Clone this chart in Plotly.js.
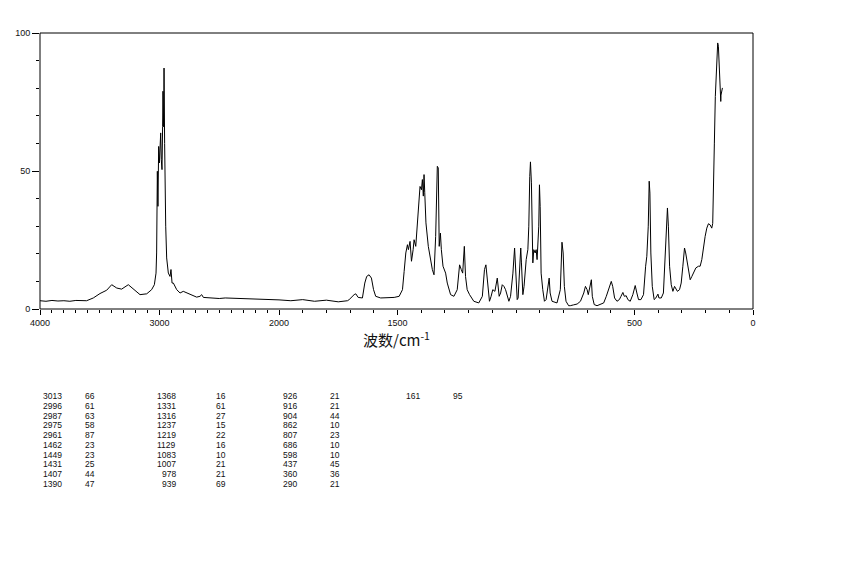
<!DOCTYPE html>
<html>
<head>
<meta charset="utf-8">
<script src="https://cdn.plot.ly/plotly-3.0.1.min.js"></script>
<style>html,body{margin:0;padding:0;background:#fff;}#chart{width:850px;height:567px;}</style>
</head>
<body>
<div id="chart"></div>
<script>
// Spectrum (wavenumber in cm-1, intensity 0-100)
const wavenumber = [
4000,3950,3900,3850,3800,3750,3700,3650,3610,3554,3498,3442,3400,3358,3317,3261,3219,3163,3107,3066,
3043,3029,3024,3018,3013,3007,3001,2996,2990,2985,2979,2974,2971,2965,2962,2957,2954,2948,2940,2926,
2912,2904,2895,2884,2856,2828,2801,2773,2731,2689,2661,2647,2633,2577,2500,2450,2382,2300,2200,2103,
2050,2000,
1950,1900,1850,1800,1750,1711,1704,1683,1676,1666,1648,1638,1630,1620,1610,1601,1592,1571,1514,1493,
1479,1472,1465,1458,1454,1447,1441,1434,1430,1423,1419,1412,1405,1399,1395,1391,1388,1385,1380,1370,
1360,1353,1346,1339,1332,1328,1324,1319,1315,1308,1297,1290,1276,1262,1248,1238,1231,1225,1218,1213,
1206,1196,1178,1157,1142,1133,1127,1121,1112,1105,1098,1089,1082,1079,1071,1065,1058,1051,1044,1037,
1030,1023,1013,1006,1002,995,991,984,980,977,971,966,957,950,946,942,939,935,929,925,
919,915,911,904,901,898,894,887,880,873,865,860,856,848,827,813,806,801,796,789,
778,771,757,742,728,714,707,700,695,686,682,678,670,658,644,630,619,609,598,592,
584,574,564,557,549,543,535,528,518,507,497,490,483,473,462,453,448,442,438,435,
431,425,417,410,401,397,387,378,371,366,361,357,352,345,338,331,326,319,310,303,
296,289,284,277,270,265,258,251,241,230,223,216,209,202,195,188,181,174,170,167,
163,159,153,149,146,143,139,136,135,132,129
];
const intensity = [
3.0,2.8,3.1,2.9,3.0,2.8,3.1,2.9,3.0,4.0,5.6,6.8,8.8,7.6,7.2,8.8,7.2,5.2,5.5,7.0,
8.8,13.0,20.3,49.9,37.2,58.9,52.9,60.1,63.8,54.1,50.5,66.2,78.9,66.0,87.3,60.0,48.0,30.0,18.5,13.0,
11.8,14.3,9.4,9.4,7.0,5.8,6.4,5.8,5.2,4.3,4.6,5.2,4.2,4.0,3.8,4.0,3.9,3.7,3.6,3.6,
3.4,3.3,
3.0,3.4,2.8,3.2,2.6,3.0,3.4,5.2,5.5,4.2,4.0,9.4,11.8,12.4,11.2,7.0,4.6,4.0,4.2,4.6,
7.0,13.6,20.3,23.3,21.5,24.5,17.3,21.5,25.1,22.7,27.5,36.0,44.4,43.2,46.9,40.9,48.7,42.1,31.2,22.7,
16.7,14.3,12.4,26.3,51.7,51.1,22.7,27.5,21.5,15.5,13.0,9.4,5.2,4.6,7.0,16.0,14.3,13.0,22.7,11.8,
7.0,5.2,2.8,2.2,4.6,14.3,16.0,9.4,2.8,4.6,7.0,6.4,10.6,11.2,4.6,5.8,8.8,8.2,7.0,5.2,
2.8,4.6,13.0,22.1,15.5,3.4,4.0,13.0,22.1,16.7,5.2,8.2,17.9,21.5,30.0,48.0,53.3,45.7,16.7,21.5,
20.3,21.5,17.9,30.0,45.0,37.2,13.0,7.0,2.8,3.4,7.6,11.2,5.8,2.8,2.2,7.0,24.2,20.3,8.2,2.8,
1.2,1.2,1.5,1.8,2.8,5.8,8.2,7.0,5.2,8.8,10.6,4.6,1.6,1.2,1.6,2.2,4.6,7.6,10.0,8.2,
4.0,2.8,3.4,4.6,6.0,4.6,4.8,3.4,2.8,5.2,8.5,5.8,3.4,3.4,5.2,15.5,19.1,30.0,46.3,42.0,
20.3,8.2,3.4,4.0,5.4,4.0,4.0,5.8,17.9,31.2,36.6,30.0,15.5,8.8,6.4,8.2,7.6,6.4,7.0,9.4,
15.5,22.1,20.3,16.7,13.6,10.6,11.8,13.0,14.9,15.5,15.5,17.9,22.7,26.3,29.3,30.9,30.5,29.3,31.0,49.3,
60.1,77.0,86.7,96.4,95.2,86.7,77.0,75.2,77.5,80.1,80.1
];

// Axis ticks
const yTickVals = [0, 50, 100];
const yTickText = ['0', '50', '100'];
const xTickValsHigh = [4000, 3000, 2000];
const xTickTextHigh = ['4000', '3000', '2000'];
const xTickValsLow = [1500, 500, 0];
const xTickTextLow = ['1500', '500', '0'];

// Peak table (as printed below the chart)
const peakWavenumbers = [3013,2996,2987,2975,2961,1462,1449,1431,1407,1390,
                         1368,1331,1316,1237,1219,1129,1083,1007,978,939,
                         926,916,904,862,807,686,598,437,360,290,
                         161];
const peakValues = [66,61,63,58,87,23,23,25,44,47,
                    16,61,27,15,22,16,10,21,21,69,
                    21,21,44,10,23,10,10,45,36,21,
                    95];

const axisTitleText = '波数/cm<sup>-1</sup>';

// split at the 2000 cm-1 scale change
const hiX = [], hiY = [], loX = [], loY = [];
wavenumber.forEach((w, i) => {
  if (w >= 2000) { hiX.push(w); hiY.push(intensity[i]); }
  if (w <= 2000) { loX.push(w); loY.push(intensity[i]); }
});

const lineStyle = {color: '#000', width: 1};
const traces = [
  {x: hiX, y: hiY, xaxis: 'x', yaxis: 'y', type: 'scatter', mode: 'lines', line: lineStyle, hoverinfo: 'skip'},
  {x: loX, y: loY, xaxis: 'x2', yaxis: 'y', type: 'scatter', mode: 'lines', line: lineStyle, hoverinfo: 'skip'}
];

// layout geometry (pixels)
const L = 40, R = 753, T = 33, B = 309;
const px2x = p => (p - L) / (R - L);
const px2y = p => (B - p) / (B - T);
const split = (279 - L) / (R - L);

const tickFont = {family: 'Liberation Sans, Arial, sans-serif', size: 9, color: '#111'};
const tableFont = {family: 'Liberation Sans, Arial, sans-serif', size: 8.5, color: '#111'};

const annotations = [{
  xref: 'paper', yref: 'paper', x: px2x(396), y: px2y(339),
  xanchor: 'center', yanchor: 'middle', showarrow: false,
  text: axisTitleText,
  font: {family: 'Noto Sans CJK SC, sans-serif', size: 15, color: '#111'}
}];

// table layout: columns of 10 rows
const colWnRight = [64, 178, 299, 422];
const colValLeft = [83, 214, 328, 451];
const rowTop = 396, rowStep = 9.78;
peakWavenumbers.forEach((w, i) => {
  const c = Math.floor(i / 10), r = i % 10;
  const yp = rowTop + r * rowStep;
  annotations.push({xref: 'paper', yref: 'paper', x: px2x(colWnRight[c]), y: px2y(yp),
    xanchor: 'right', yanchor: 'middle', showarrow: false, text: String(w), font: tableFont});
  annotations.push({xref: 'paper', yref: 'paper', x: px2x(colValLeft[c]), y: px2y(yp),
    xanchor: 'left', yanchor: 'middle', showarrow: false, text: String(peakValues[i]), font: tableFont});
});

const xCommon = {
  showgrid: false, zeroline: false, showline: false,
  ticks: 'outside', ticklen: 5, tickcolor: '#000', tickwidth: 1,
  tickfont: tickFont, tickmode: 'array', anchor: 'y',
  minor: {tick0: 0, dtick: 100, ticks: 'outside', ticklen: 3, tickcolor: '#000', tickwidth: 1, showgrid: false}
};

const layout = {
  width: 850, height: 567,
  margin: {l: L, r: 850 - R, t: T, b: 567 - B, pad: 0},
  paper_bgcolor: '#fff', plot_bgcolor: '#fff',
  showlegend: false,
  xaxis: Object.assign({}, xCommon, {domain: [0, split], range: [4000, 2000],
    tickvals: xTickValsHigh, ticktext: xTickTextHigh}),
  xaxis2: Object.assign({}, xCommon, {domain: [split, 1], range: [2000, 0],
    tickvals: xTickValsLow, ticktext: xTickTextLow}),
  yaxis: {
    range: [0, 100], showgrid: false, zeroline: false, showline: false,
    ticks: 'outside', ticklen: 7, tickcolor: '#000', tickwidth: 1,
    tickmode: 'array', tickvals: yTickVals, ticktext: yTickText, tickfont: tickFont,
    minor: {tick0: 0, dtick: 10, ticks: 'outside', ticklen: 3, tickcolor: '#000', tickwidth: 1, showgrid: false}
  },
  shapes: [{type: 'rect', xref: 'paper', yref: 'paper', x0: 0, x1: 1, y0: 0, y1: 1,
            line: {color: '#000', width: 1}, fillcolor: 'rgba(0,0,0,0)'}],
  annotations: annotations
};

Plotly.newPlot('chart', traces, layout, {staticPlot: true, displayModeBar: false});
</script>
</body>
</html>
